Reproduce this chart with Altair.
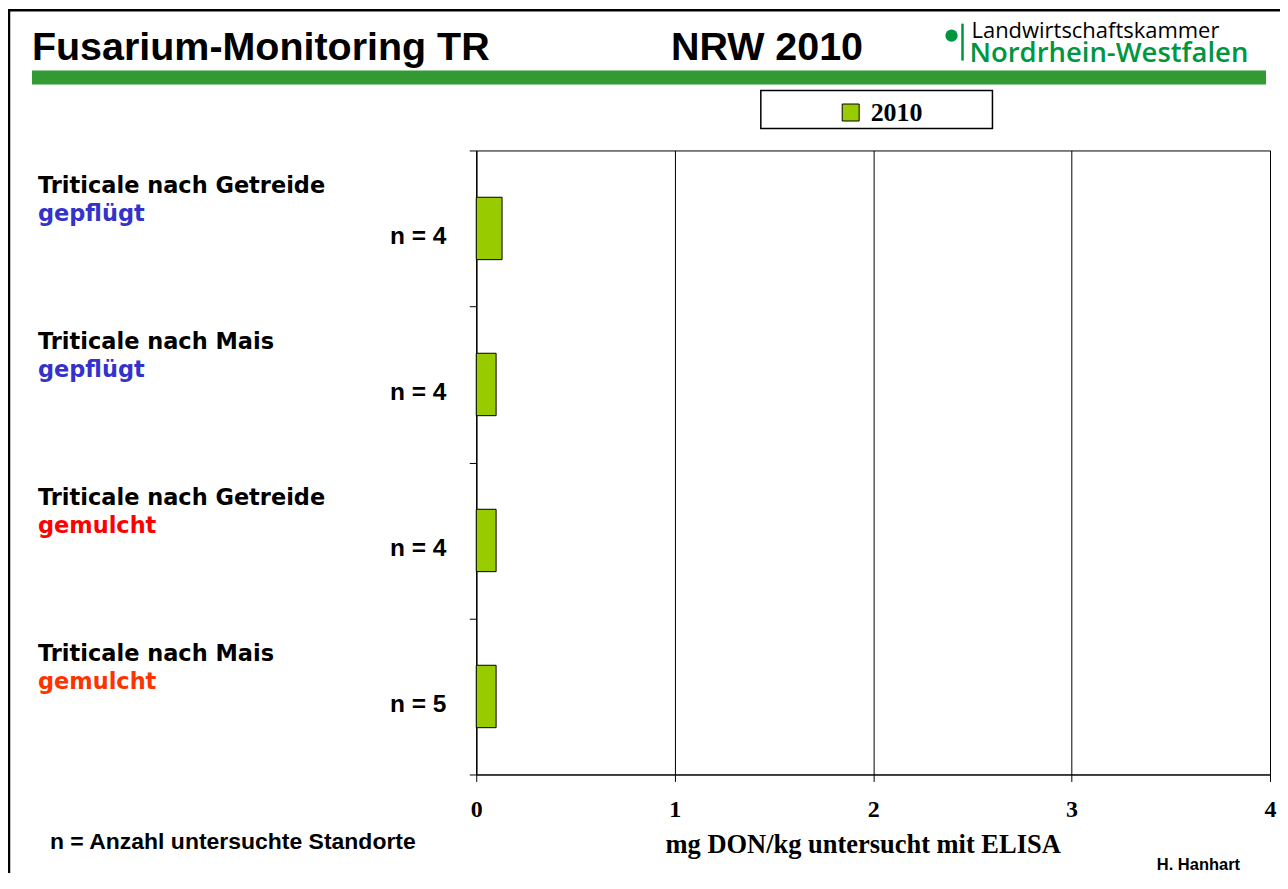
import altair as alt
import pandas as pd

# ---------------- data ----------------
crops = ["Triticale nach Getreide", "Triticale nach Mais",
         "Triticale nach Getreide", "Triticale nach Mais"]
tillage = ["gepflügt", "gepflügt", "gemulcht", "gemulcht"]
n_sites = [4, 4, 4, 5]
don_2010 = [0.13, 0.10, 0.10, 0.10]
year = "2010"
x_ticks = [0, 1, 2, 3, 4]

title_text = "Fusarium-Monitoring TR"
region_text = "NRW 2010"
logo_line1 = "Landwirtschaftskammer"
logo_line2 = "Nordrhein-Westfalen"
x_title = "mg DON/kg untersucht mit ELISA"
footnote = "n = Anzahl untersuchte Standorte"
author = "H. Hanhart"

keys = [f"{c} {t}" for c, t in zip(crops, tillage)]
df = pd.DataFrame({
    "key": keys,
    "crop": crops,
    "tillage": tillage,
    "n": [f"n = {v}" for v in n_sites],
    "don": don_2010,
    "Jahr": [year] * len(keys),
})

# ---------------- styles ----------------
tillage_colors = ["#3333CC", "#3333CC", "#FF0000", "#FF3300"]
BAR_GREEN = "#99CC00"
LOGO_GREEN = "#009640"
BAND_GREEN = "#339933"
SANS = "Liberation Sans"
SERIF = "Liberation Serif"
LABEL_FONT = "DejaVu Sans"

W, H = 795, 625

y_scale = alt.Scale(domain=keys, paddingInner=0, paddingOuter=0)
y_axis = alt.Axis(labels=False, title=None, tickBand="extent", tickSize=7,
                  tickColor="black", domainColor="black", grid=False, ticks=True)
y_enc = alt.Y("key:N", scale=y_scale, axis=y_axis)

x_axis = alt.Axis(values=x_ticks, format="d", grid=True, gridColor="black",
                  gridWidth=1, gridOpacity=1, domainColor="black", tickColor="black",
                  tickSize=7, labelFont=SERIF, labelFontWeight="bold", labelFontSize=24,
                  labelColor="black", labelPadding=16, labelFlush=False,
                  title=x_title, titleFont=SERIF, titleFontSize=26.5,
                  titleFontWeight="bold", titleColor="black", titleX=387, titleY=78,
                  titleAlign="center", titleBaseline="alphabetic")


def one(text=""):
    return pd.DataFrame({"t": [text]})


# frame
frame_top = alt.Chart(one()).mark_rule(color="black", strokeWidth=2.5).encode(
    x=alt.value(-469), x2=alt.value(820), y=alt.value(-140.5))
frame_left = alt.Chart(one()).mark_rule(color="black", strokeWidth=2.5).encode(
    x=alt.value(-468), y=alt.value(-141), y2=alt.value(760))

# header
title = alt.Chart(one(title_text)).mark_text(
    align="left", baseline="alphabetic", font=SANS, fontWeight="bold",
    fontSize=39.5, color="black").encode(x=alt.value(-445), y=alt.value(-90.7), text="t:N")
region = alt.Chart(one(region_text)).mark_text(
    align="left", baseline="alphabetic", font=SANS, fontWeight="bold",
    fontSize=39.5, color="black").encode(x=alt.value(195), y=alt.value(-90.7), text="t:N")
logo_dot = alt.Chart(one()).mark_point(filled=True, shape="circle", size=150,
                                        color=LOGO_GREEN, opacity=1).encode(
    x=alt.value(476), y=alt.value(-115))
logo_bar = alt.Chart(one()).mark_rule(color=LOGO_GREEN, strokeWidth=2.5).encode(
    x=alt.value(487), y=alt.value(-127), y2=alt.value(-90))
logo_t1 = alt.Chart(one(logo_line1)).mark_text(
    align="left", baseline="alphabetic", font="Open Sans", fontSize=22,
    color="black").encode(x=alt.value(496), y=alt.value(-112.5), text="t:N")
logo_t2 = alt.Chart(one(logo_line2)).mark_text(
    align="left", baseline="alphabetic", font="Open Sans", fontWeight=600,
    fontSize=27.5, color=LOGO_GREEN).encode(x=alt.value(494), y=alt.value(-88.8), text="t:N")
band = alt.Chart(one()).mark_rect(color=BAND_GREEN).encode(
    x=alt.value(-445), x2=alt.value(791), y=alt.value(-80), y2=alt.value(-66))
legend_box = alt.Chart(one()).mark_rect(fill="white", stroke="black", strokeWidth=1.5).encode(
    x=alt.value(285), x2=alt.value(517), y=alt.value(-60), y2=alt.value(-22))

# bars
bars = alt.Chart(df).mark_bar(stroke="black", strokeWidth=1, height={"band": 0.4}).encode(
    x=alt.X("don:Q", scale=alt.Scale(domain=[0, 4], nice=False), axis=x_axis),
    y=y_enc,
    color=alt.Color("Jahr:N", scale=alt.Scale(domain=[year], range=[BAR_GREEN]),
                    legend=alt.Legend(title=None, orient="none", legendX=362, legendY=-51,
                                      symbolType="square", symbolSize=289,
                                      symbolStrokeColor="black", symbolStrokeWidth=1,
                                      labelFont=SERIF, labelFontSize=26,
                                      labelFontWeight="bold", labelColor="black",
                                      labelOffset=7, padding=0)),
)

line1 = alt.Chart(df).mark_text(
    align="left", baseline="alphabetic", dy=-36, font=LABEL_FONT, fontWeight="bold",
    fontSize=22.5, color="black").encode(x=alt.value(-439), y=y_enc, text="crop:N")
line2 = alt.Chart(df).mark_text(
    align="left", baseline="alphabetic", dy=-7.5, font=LABEL_FONT, fontWeight="bold",
    fontSize=22.5).encode(
    x=alt.value(-439), y=y_enc, text="tillage:N",
    color=alt.Color("key:N", scale=alt.Scale(domain=keys, range=tillage_colors), legend=None))
nlab = alt.Chart(df).mark_text(
    align="right", baseline="alphabetic", dy=15.5, font=SANS, fontWeight="bold",
    fontSize=24.5, color="black").encode(x=alt.value(-30), y=y_enc, text="n:N")

foot = alt.Chart(one(footnote)).mark_text(
    align="left", baseline="alphabetic", font=SANS, fontWeight="bold",
    fontSize=23, color="black").encode(x=alt.value(-427), y=alt.value(700), text="t:N")
auth = alt.Chart(one(author)).mark_text(
    align="right", baseline="alphabetic", font=SANS, fontWeight="bold",
    fontSize=16.5, color="black").encode(x=alt.value(765), y=alt.value(721), text="t:N")

chart = alt.layer(
    frame_top, frame_left, band, title, region, logo_dot, logo_bar, logo_t1, logo_t2,
    legend_box, bars, line1, line2, nlab, foot, auth
).resolve_scale(color="independent").properties(
    width=W, height=H, autosize="none",
    padding={"left": 469, "top": 142, "right": 10, "bottom": 98},
    background="white",
).configure_view(stroke="black", strokeWidth=1)

chart.save("out.html", embed_options={"renderer": "svg", "actions": False})
